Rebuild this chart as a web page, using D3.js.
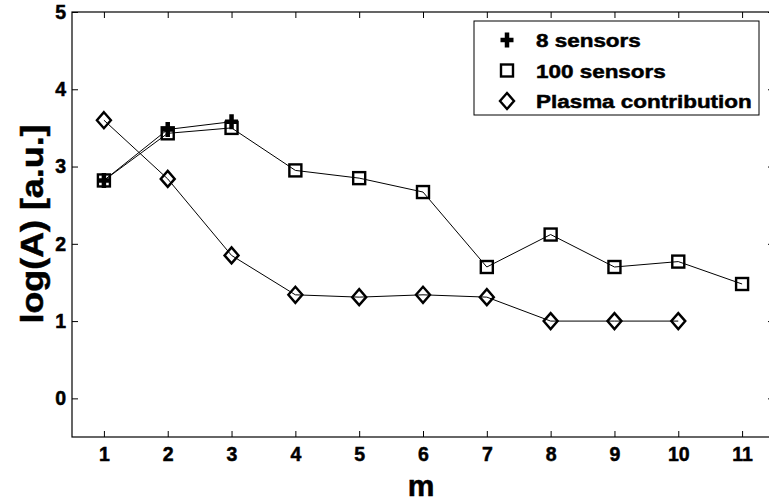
<!DOCTYPE html>
<html>
<head>
<meta charset="utf-8">
<script src="https://cdn.jsdelivr.net/npm/d3@7"></script>
<style>
  html, body { margin: 0; padding: 0; background: #fff; }
  svg { display: block; }
  text { font-family: "Liberation Sans", Arial, sans-serif; font-weight: bold; fill: #000; }
</style>
</head>
<body>
<svg id="chart" width="769" height="504"></svg>
<script>
// ---- data ----
const mValues = [1, 2, 3, 4, 5, 6, 7, 8, 9, 10, 11];
const sensors8M = [1, 2, 3];
const sensors8 = [2.82, 3.48, 3.58];
const sensors100M = [1, 2, 3, 4, 5, 6, 7, 8, 9, 10, 11];
const sensors100 = [2.82, 3.43, 3.50, 2.95, 2.85, 2.67, 1.70, 2.12, 1.70, 1.77, 1.48];
const plasmaM = [1, 2, 3, 4, 5, 6, 7, 8, 9, 10];
const plasma = [3.60, 2.84, 1.85, 1.34, 1.31, 1.34, 1.31, 1.00, 1.00, 1.00];
const yTicks = [0, 1, 2, 3, 4, 5];
const legendLabels = ["8 sensors", "100 sensors", "Plasma contribution"];
const xTitle = "m";
const yTitle = "log(A) [a.u.]";

(function () {
// ---- layout ----
const svg = d3.select("#chart");
const pLeft = 72, pRight = 774, pTop = 12, pBottom = 437;
const x = d3.scaleLinear().domain([0.5, 11.5]).range([pLeft, pRight]);
const y = d3.scaleLinear().domain([-0.5, 5]).range([pBottom, pTop]);

// frame
svg.append("rect").attr("x", pLeft).attr("y", pTop)
  .attr("width", pRight - pLeft).attr("height", pBottom - pTop)
  .attr("fill", "none").attr("stroke", "#000").attr("stroke-width", 1.2);

// axes
const xAxis = d3.axisBottom(x).tickValues(mValues).tickFormat(d3.format("d"))
  .tickSizeInner(-6).tickSizeOuter(0).tickPadding(10);
const gx = svg.append("g").attr("transform", `translate(0,${pBottom})`).call(xAxis);
const xTopAxis = d3.axisTop(x).tickValues(mValues).tickFormat("").tickSizeInner(-6).tickSizeOuter(0);
const gxt = svg.append("g").attr("transform", `translate(0,${pTop})`).call(xTopAxis);
const yAxis = d3.axisLeft(y).tickValues(yTicks).tickFormat(d3.format("d"))
  .tickSizeInner(-6).tickSizeOuter(0).tickPadding(6);
const gy = svg.append("g").attr("transform", `translate(${pLeft},0)`).call(yAxis);
const yRightAxis = d3.axisRight(y).tickValues(yTicks).tickFormat("").tickSizeInner(-6).tickSizeOuter(0);
const gyr = svg.append("g").attr("transform", `translate(${pRight},0)`).call(yRightAxis);
[gx, gxt, gy, gyr].forEach(g => {
  g.select(".domain").remove();
  g.selectAll(".tick line").attr("stroke", "#000").attr("stroke-width", 1);
  g.selectAll(".tick text").attr("font-size", 19.5).attr("font-family", "Liberation Sans, Arial, sans-serif")
    .attr("font-weight", "bold").attr("fill", "#000")
    .attr("stroke", "#000").attr("stroke-width", 0.5);
});

// titles
svg.append("text").attr("x", 421).attr("y", 496).attr("text-anchor", "middle")
  .attr("font-size", 30).attr("stroke", "#000").attr("stroke-width", 0.5).text(xTitle);
svg.append("text").attr("transform", "translate(43,224) rotate(-90) scale(1.12,1)")
  .attr("text-anchor", "middle").attr("font-size", 32)
  .attr("stroke", "#000").attr("stroke-width", 0.5).text(yTitle);

// lines
const line = d3.line().x(d => x(d[0])).y(d => y(d[1]));
const s8 = sensors8M.map((m, i) => [m, sensors8[i]]);
const s100 = sensors100M.map((m, i) => [m, sensors100[i]]);
const pl = plasmaM.map((m, i) => [m, plasma[i]]);
[s100, pl, s8].forEach(data => {
  svg.append("path").datum(data).attr("d", line)
    .attr("fill", "none").attr("stroke", "#000").attr("stroke-width", 1);
});

// markers
function square(g, cx, cy) {
  g.append("rect").attr("x", cx - 6).attr("y", cy - 6).attr("width", 12).attr("height", 12)
    .attr("fill", "none").attr("stroke", "#000").attr("stroke-width", 2.4);
}
function diamond(g, cx, cy) {
  g.append("path").attr("d", `M${cx},${cy - 8}L${cx + 7},${cy}L${cx},${cy + 8}L${cx - 7},${cy}Z`)
    .attr("fill", "none").attr("stroke", "#000").attr("stroke-width", 2.4);
}
function plus(g, cx, cy) {
  g.append("path").attr("d", `M${cx - 6.5},${cy}H${cx + 6.5}M${cx},${cy - 7.5}V${cy + 7.5}`)
    .attr("fill", "none").attr("stroke", "#000").attr("stroke-width", 4.5);
}
const gm = svg.append("g");
s100.forEach(d => square(gm, x(d[0]), y(d[1])));
pl.forEach(d => diamond(gm, x(d[0]), y(d[1])));
s8.forEach(d => plus(gm, x(d[0]), y(d[1])));

// legend
const lg = svg.append("g");
lg.append("rect").attr("x", 474).attr("y", 21).attr("width", 285).attr("height", 94)
  .attr("fill", "#fff").attr("stroke", "#000").attr("stroke-width", 1);
const markerFns = [plus, square, diamond];
legendLabels.forEach((lab, i) => {
  const cy = 40 + i * 30.5;
  markerFns[i](lg, 507, cy);
  lg.append("text").attr("transform", `translate(536,${cy + 7}) scale(1.17,1)`)
    .attr("font-size", 19.2).attr("stroke", "#000").attr("stroke-width", 0.5).text(lab);
});
})();
</script>
</body>
</html>
